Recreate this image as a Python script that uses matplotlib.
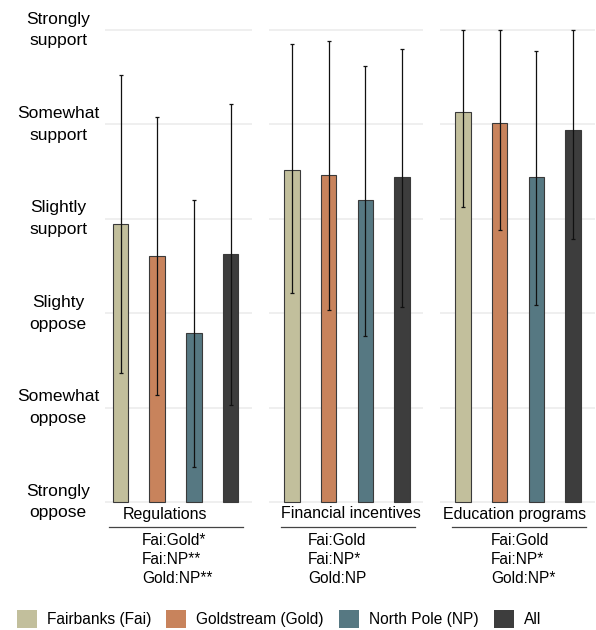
import numpy as np
import matplotlib
matplotlib.use('Agg')
import matplotlib.pyplot as plt
import matplotlib.transforms as mtransforms
from matplotlib.patches import Patch

plt.rcParams['font.family'] = ['Liberation Sans', 'DejaVu Sans']

# data
groups = ['Fairbanks (Fai)', 'Goldstream (Gold)', 'North Pole (NP)', 'All']
colors = ['#c2bf9c', '#c8835c', '#567882', '#3d3d3d']
panels = ['Regulations', 'Financial incentives', 'Education programs']
levels = ['Strongly\noppose', 'Somewhat\noppose', 'Slighty\noppose',
          'Slightly\nsupport', 'Somewhat\nsupport', 'Strongly\nsupport']
level_vals = [1, 2, 3, 4, 5, 6]

means = [[3.95, 3.61, 2.79, 3.63],
         [4.52, 4.46, 4.20, 4.44],
         [5.13, 5.01, 4.44, 4.94]]
err_lo = [[2.37, 2.13, 1.37, 2.03],
          [3.21, 3.03, 2.76, 3.07],
          [4.12, 3.88, 3.09, 3.79]]
err_hi = [[5.52, 5.08, 4.20, 5.22],
          [5.85, 5.88, 5.62, 5.80],
          [6.00, 6.00, 5.78, 6.00]]
sig = ['Fai:Gold*\nFai:NP**\nGold:NP**',
       'Fai:Gold\nFai:NP*\nGold:NP',
       'Fai:Gold\nFai:NP*\nGold:NP*']

W, H = 596, 630
fig = plt.figure(figsize=(W / 100, H / 100), dpi=100)

# layout (pixels)
unit = 36.7
ylo, yhi = 0.95, 6.1
y1_px = 502.0
ppu = 94.4
bot_px = y1_px + (1 - ylo) * ppu
top_px = y1_px - (yhi - 1) * ppu
xlims = [(-0.42, 3.58), (-0.62, 3.57), (-0.62, 3.60)]
first_centers = [120.5, 292.0, 463.0]
label_x = [1.21, 1.61, 1.40]
sig_x = [0.59, 0.44, 0.76]

x = np.arange(4)
axes = []
for i in range(3):
    xlo, xhi = xlims[i]
    left = first_centers[i] + xlo * unit
    ax = fig.add_axes([left / W, 1 - bot_px / H, (xhi - xlo) * unit / W,
                       (bot_px - top_px) / H])
    axes.append(ax)
    m = np.array(means[i])
    yerr = [m - np.array(err_lo[i]), np.array(err_hi[i]) - m]
    for v in level_vals:
        ax.axhline(v, color='#ececec', lw=1.2, zorder=0)
    ax.bar(x, m - 1, bottom=1, width=0.42, color=colors,
           edgecolor='#3a3a3a', linewidth=0.8, zorder=2)
    ax.errorbar(x, m, yerr=yerr, fmt='none', ecolor='#111111',
                elinewidth=0.9, capsize=1.5, capthick=0.9, zorder=3)
    ax.set_xlim(xlo, xhi)
    ax.set_ylim(ylo, yhi)
    ax.set_xticks([])
    ax.set_yticks([])
    for s in ax.spines.values():
        s.set_visible(False)

    tr = mtransforms.blended_transform_factory(ax.transData, fig.transFigure)
    ax.text(label_x[i], 1 - 514 / H, panels[i], transform=tr,
            ha='center', va='center', fontsize=11.5)
    ax.plot([-0.3, 3.34], [1 - 527 / H] * 2, transform=tr, color='#444444',
            lw=0.9, clip_on=False)
    ax.text(sig_x[i], 1 - 533 / H, sig[i], transform=tr, ha='left',
            va='top', fontsize=11.2, linespacing=1.33)

# y level labels
tr0 = mtransforms.blended_transform_factory(fig.transFigure, axes[0].transData)
for v, lab in zip(level_vals, levels):
    axes[0].text(58 / W, v, lab, transform=tr0, ha='center', va='center',
                 fontsize=12.5, linespacing=1.58, clip_on=False)

handles = [Patch(facecolor=c, edgecolor='none') for c in colors]
fig.legend(handles, groups, loc='center left', ncol=4,
           bbox_to_anchor=(3 / W, 1 - 619 / H), frameon=False,
           fontsize=11.2, handlelength=1.28, handleheight=1.5,
           handletextpad=0.64, columnspacing=0.98)

fig.savefig('out.png', dpi=100)
